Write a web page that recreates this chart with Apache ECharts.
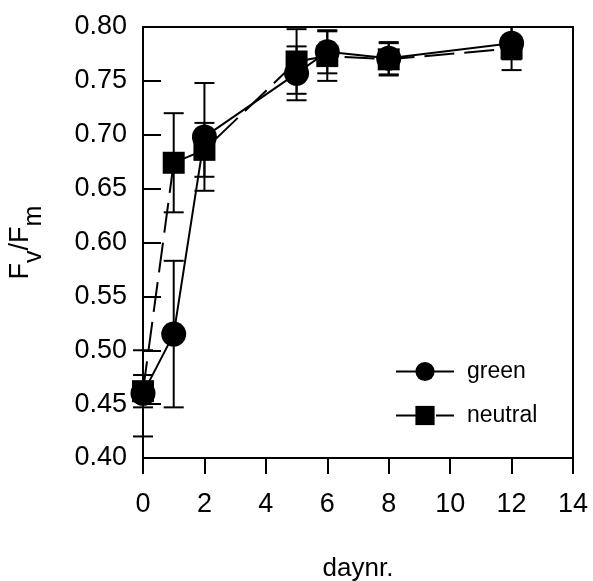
<!DOCTYPE html>
<html>
<head>
<meta charset="utf-8">
<script src="https://cdn.jsdelivr.net/npm/echarts@6/dist/echarts.min.js"></script>
<style>
  html, body { margin: 0; padding: 0; background: #fff; }
  #chart { width: 593px; height: 581px; }
</style>
</head>
<body>
<div id="chart"></div>
<script>
// 数据
let days = [0, 1, 2, 5, 6, 8, 12];
let green = [0.460, 0.515, 0.698, 0.757, 0.777, 0.771, 0.785];
let greenErr = [0.040, 0.068, 0.050, 0.025, 0.020, 0.015, 0.015];
let neutral = [0.462, 0.674, 0.686, 0.768, 0.773, 0.770, 0.780];
let neutralErr = [0.015, 0.046, 0.025, 0.030, 0.023, 0.015, 0.020];

let font = "'Liberation Sans', Arial, sans-serif";

function pairs(xs, ys) {
    return xs.map((x, i) => [x, ys[i]]);
}

function errData(xs, ys, es) {
    return xs.map((x, i) => [x, ys[i] - es[i], ys[i] + es[i]]);
}

// 误差线
function errorBar(params, api) {
    let lo = api.coord([api.value(0), api.value(1)]);
    let hi = api.coord([api.value(0), api.value(2)]);
    let w = 10;
    let style = { stroke: "#000", lineWidth: 2 };
    return {
        type: "group",
        children: [
            { type: "line", shape: { x1: lo[0], y1: lo[1], x2: hi[0], y2: hi[1] }, style: style },
            { type: "line", shape: { x1: lo[0] - w, y1: lo[1], x2: lo[0] + w, y2: lo[1] }, style: style },
            { type: "line", shape: { x1: hi[0] - w, y1: hi[1], x2: hi[0] + w, y2: hi[1] }, style: style }
        ]
    };
}

let mychart = echarts.init(document.getElementById("chart"));
let options = {
    animation: false,
    textStyle: { fontFamily: font },
    grid: {
        left: 143, right: 20, top: 27, bottom: 123,
        outerBoundsMode: "none",
        containLabel: false,
        show: true, borderColor: "#000", borderWidth: 2
    },
    legend: {
        orient: "vertical",
        left: 390, top: 355,
        itemWidth: 58, itemHeight: 24, itemGap: 21,
        textStyle: { fontSize: 23, color: "#000", fontFamily: font, padding: [0, 0, 0, 8] },
        data: ["green", "neutral"]
    },
    xAxis: {
        type: "value",
        min: 0, max: 14, interval: 2,
        name: "daynr.",
        nameLocation: "middle",
        nameGap: 98,
        nameTextStyle: { fontSize: 26, color: "#000", fontFamily: font },
        axisLine: { lineStyle: { color: "#000", width: 2 } },
        axisTick: { length: 16, lineStyle: { color: "#000", width: 2 } },
        axisLabel: { fontSize: 27, color: "#000", margin: 33, fontFamily: font },
        splitLine: { show: false }
    },
    yAxis: {
        type: "value",
        min: 0.4, max: 0.8, interval: 0.05,
        name: "{n|F}{s|v}{n|/F}{s|m}",
        nameLocation: "middle",
        nameRotate: 90,
        nameGap: 96,
        nameTextStyle: {
            color: "#000",
            rich: {
                n: { fontSize: 27, color: "#000", fontFamily: font, verticalAlign: "top", lineHeight: 40 },
                s: { fontSize: 25, color: "#000", fontFamily: font, verticalAlign: "bottom", lineHeight: 40, padding: [14, 0, 0, 0] }
            }
        },
        axisLine: { lineStyle: { color: "#000", width: 2 } },
        axisTick: { inside: true, length: 18, lineStyle: { color: "#000", width: 2 } },
        axisLabel: {
            fontSize: 27, color: "#000", margin: 16, fontFamily: font,
            formatter: v => v.toFixed(2)
        },
        splitLine: { show: false }
    },
    series: [{
        type: "custom",
        renderItem: errorBar,
        data: errData(days, green, greenErr),
        z: 1,
        silent: true
    }, {
        type: "custom",
        renderItem: errorBar,
        data: errData(days, neutral, neutralErr),
        z: 1,
        silent: true
    }, {
        name: "green",
        type: "line",
        data: pairs(days, green),
        symbol: "circle",
        symbolSize: 25,
        itemStyle: { color: "#000" },
        lineStyle: { color: "#000", width: 2 },
        z: 3
    }, {
        name: "neutral",
        type: "line",
        data: pairs(days, neutral),
        symbol: "rect",
        symbolSize: 22,
        itemStyle: { color: "#000" },
        lineStyle: { color: "#000", width: 2, type: [30, 10] },
        z: 2
    }]
};
mychart.setOption(options);
</script>
</body>
</html>
